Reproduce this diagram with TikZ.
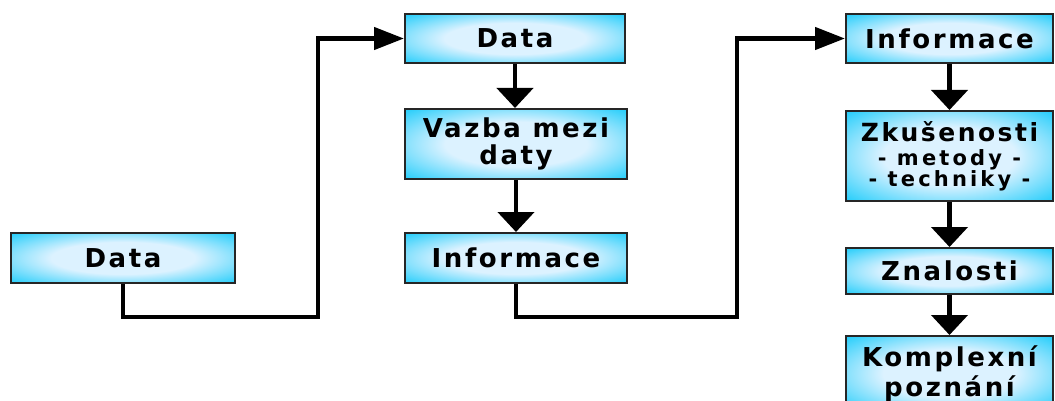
\documentclass[tikz,border=0pt]{standalone}
\usepackage{fontspec}
\usetikzlibrary{arrows.meta}
\setmainfont{DejaVu Sans}
\newfontfamily\boxfont[LetterSpace=10]{DejaVu Sans}
\newfontfamily\subfont[LetterSpace=15]{DejaVu Sans}
\definecolor{boxcyan}{RGB}{10,200,250}
\definecolor{boxlight}{RGB}{220,242,255}
\pgfdeclareradialshading{boxglow}{\pgfpoint{0bp}{0bp}}{%
  color(0bp)=(boxlight); color(16bp)=(boxlight);
  color(38bp)=(boxcyan); color(50bp)=(boxcyan)}
\newcommand\subline[1]{{\subfont\bfseries\fontsize{21}{21}\selectfont #1}}

\begin{document}
\begin{tikzpicture}[x=1pt,y=-1pt,
  stage/.style={draw=black!85, line width=2pt, shading=boxglow,
    anchor=north west, inner sep=0pt, align=center,
    font=\boxfont\bfseries\fontsize{26}{30}\selectfont},
  link/.style={line width=4.5pt, black, line join=miter},
  down/.style={link, -{Triangle[length=20pt,width=36pt]}},
  feed/.style={link, -{Triangle[length=30pt,width=22pt]}}]
  \useasboundingbox (0,0) rectangle (1055,401);

  % first column
  \node[stage, minimum width=224pt, minimum height=50pt] (b1) at (10,232) {Data};

  % second column
  \node[stage, minimum width=220pt, minimum height=49pt] (b2) at (404,13) {Data};
  \node[stage, minimum width=222pt, minimum height=70pt,
        font=\boxfont\bfseries\fontsize{26}{27}\selectfont] (b3) at (404,108) {Vazba mezi\\daty};
  \node[stage, minimum width=222pt, minimum height=50pt] (b4) at (404,232) {Informace};

  % third column
  \node[stage, minimum width=207pt, minimum height=90pt,
        font=\boxfont\bfseries\fontsize{25}{21}\selectfont] (b6) at (845,110)
    {Zkušenosti\\[3pt]\subline{- metody -}\\\subline{- techniky -}};
  \node[stage, minimum width=207pt, minimum height=49pt] (b5) at (845,13) {Informace};
  \node[stage, minimum width=207pt, minimum height=46pt] (b7) at (845,247) {Znalosti};
  \node[stage, minimum width=207pt, minimum height=75pt] (b8) at (845,335) {Komplexní\\poznání};

  % elbow points of the long connectors
  \coordinate (c1) at (318,317);
  \coordinate (c2) at (737,317);

  \draw[feed] (b1.south) |- (c1) |- (b2.west);
  \draw[feed] (b4.south) |- (c2) |- (b5.west);

  \draw[down] (b2.south) -- (b2.south |- b3.north);
  \draw[down] (b3.south) -- (b3.south |- b4.north);
  \draw[down] (b5.south) -- (b5.south |- b6.north);
  \draw[down] (b6.south) -- (b6.south |- b7.north);
  \draw[down] (b7.south) -- (b7.south |- b8.north);
\end{tikzpicture}
\end{document}
